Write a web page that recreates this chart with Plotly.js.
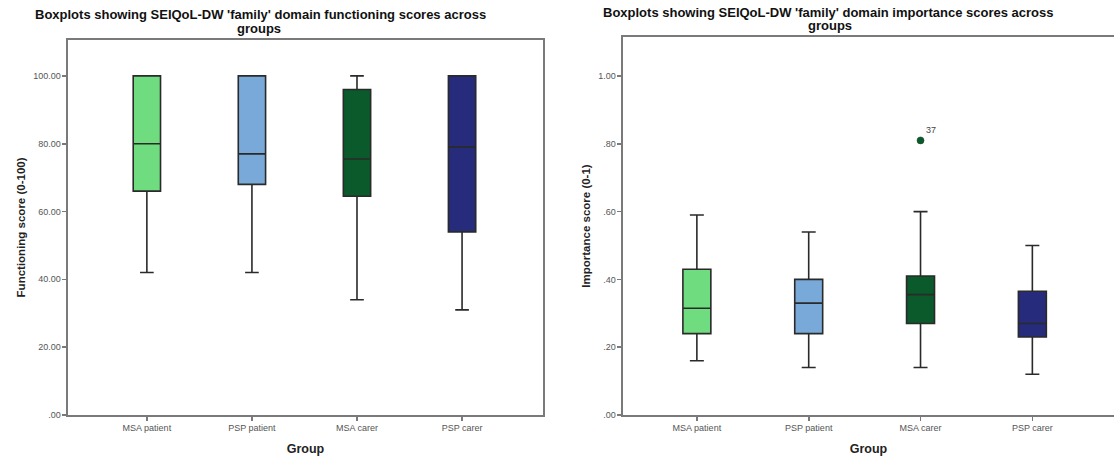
<!DOCTYPE html>
<html>
<head>
<meta charset="utf-8">
<script src="https://cdn.plot.ly/plotly-3.0.1.min.js"></script>
<style>html,body{margin:0;padding:0;background:#fff;}#chart{width:1114px;height:459px;}</style>
</head>
<body>
<div id="chart"></div>
<script>
// Categories and colours
const groups = ["MSA patient", "PSP patient", "MSA carer", "PSP carer"];
const colors = ["#6fdc80", "#78a9d8", "#0b5a2b", "#272b7c"];

// Functioning scores (0-100)
const funcLow = [42, 42, 34, 31];
const funcQ1 = [66, 68, 64.5, 54];
const funcMed = [80, 77, 75.5, 79];
const funcQ3 = [100, 100, 96, 100];
const funcHigh = [100, 100, 100, 100];

// Importance scores (0-1)
const impLow = [0.16, 0.14, 0.14, 0.12];
const impQ1 = [0.24, 0.24, 0.27, 0.23];
const impMed = [0.315, 0.33, 0.355, 0.27];
const impQ3 = [0.43, 0.40, 0.41, 0.365];
const impHigh = [0.59, 0.54, 0.60, 0.50];

// Outlier
const outGroup = ["MSA carer"];
const outValue = [0.81];
const outLabel = ["37"];

// Tick labels
const funcTickVals = [0, 20, 40, 60, 80, 100];
const funcTickText = [".00", "20.00", "40.00", "60.00", "80.00", "100.00"];
const impTickVals = [0, 0.2, 0.4, 0.6, 0.8, 1.0];
const impTickText = [".00", ".20", ".40", ".60", ".80", "1.00"];

// Titles
const leftTitle = ["Boxplots showing SEIQoL-DW 'family' domain functioning scores across", "groups"];
const rightTitle = ["Boxplots showing SEIQoL-DW 'family' domain importance scores across", "groups"];

const traces = [];
groups.forEach((g, i) => {
  traces.push({
    type: "box", x: [g], q1: [funcQ1[i]], median: [funcMed[i]], q3: [funcQ3[i]],
    lowerfence: [funcLow[i]], upperfence: [funcHigh[i]],
    fillcolor: colors[i], line: {color: "#2a2a2a", width: 1.6},
    width: 0.26, whiskerwidth: 0.5, xaxis: "x", yaxis: "y", showlegend: false, hoverinfo: "skip"
  });
  traces.push({
    type: "box", x: [g], q1: [impQ1[i]], median: [impMed[i]], q3: [impQ3[i]],
    lowerfence: [impLow[i]], upperfence: [impHigh[i]],
    fillcolor: colors[i], line: {color: "#2a2a2a", width: 1.6},
    width: 0.25, whiskerwidth: 0.5, xaxis: "x2", yaxis: "y2", showlegend: false, hoverinfo: "skip"
  });
});
traces.push({
  type: "scatter", mode: "markers+text", x: outGroup, y: outValue, text: outLabel,
  textposition: "top right", textfont: {family: "Liberation Sans, Arial", size: 9, color: "#444"},
  marker: {color: colors[2], size: 7, line: {color: "#0a3a1c", width: 0.5}},
  xaxis: "x2", yaxis: "y2", showlegend: false, hoverinfo: "skip", cliponaxis: false
});

const axisCommon = {
  showgrid: false, zeroline: false, showline: true, linecolor: "#7a7a7a", linewidth: 1.6,
  ticks: "outside", ticklen: 4, tickcolor: "#7a7a7a", tickwidth: 1.6,
  tickfont: {family: "Liberation Sans, Arial", size: 9, color: "#555"}
};
const yTitleFont = {family: "Liberation Sans, Arial", size: 11.5, color: "#222", weight: "bold"};
const xTitleFont = {family: "Liberation Sans, Arial", size: 12.5, color: "#222", weight: "bold"};
const headFont = {family: "Liberation Sans, Arial", size: 13, color: "#111", weight: "bold"};

function head(text, xpx, ypx) {
  return {text: text, x: xpx / 1114, y: 1 - ypx / 459, xref: "paper", yref: "paper",
    showarrow: false, xanchor: "center", yanchor: "middle", font: headFont};
}

const layout = {
  width: 1114, height: 459, margin: {l: 0, r: 0, t: 0, b: 0},
  paper_bgcolor: "#fff", plot_bgcolor: "#fff", showlegend: false,
  xaxis: Object.assign({}, axisCommon, {
    domain: [0.0611, 0.4874], type: "category", categoryorder: "array", categoryarray: groups,
    range: [-0.75, 3.77], mirror: true, anchor: "y",
    title: {text: "Group", font: xTitleFont, standoff: 12}
  }),
  yaxis: Object.assign({}, axisCommon, {
    domain: [0.0959, 0.913], range: [0, 110.6], tickvals: funcTickVals, ticktext: funcTickText,
    mirror: true, anchor: "x",
    title: {text: "Functioning score (0-100)", font: yTitleFont, standoff: 5}
  }),
  xaxis2: Object.assign({}, axisCommon, {
    domain: [0.5593, 1.0], type: "category", categoryorder: "array", categoryarray: groups,
    range: [-0.66, 3.73], mirror: true, anchor: "y2",
    title: {text: "Group", font: xTitleFont, standoff: 12}
  }),
  yaxis2: Object.assign({}, axisCommon, {
    domain: [0.0959, 0.9194], range: [0, 1.115], tickvals: impTickVals, ticktext: impTickText,
    mirror: false, anchor: "x2",
    title: {text: "Importance score (0-1)", font: yTitleFont, standoff: 5}
  }),
  annotations: [
    head(leftTitle[0], 260, 15), head(leftTitle[1], 259, 29),
    head(rightTitle[0], 828, 12), head(rightTitle[1], 830, 26)
  ]
};

Plotly.newPlot("chart", traces, layout, {staticPlot: true, displayModeBar: false});
</script>
</body>
</html>
